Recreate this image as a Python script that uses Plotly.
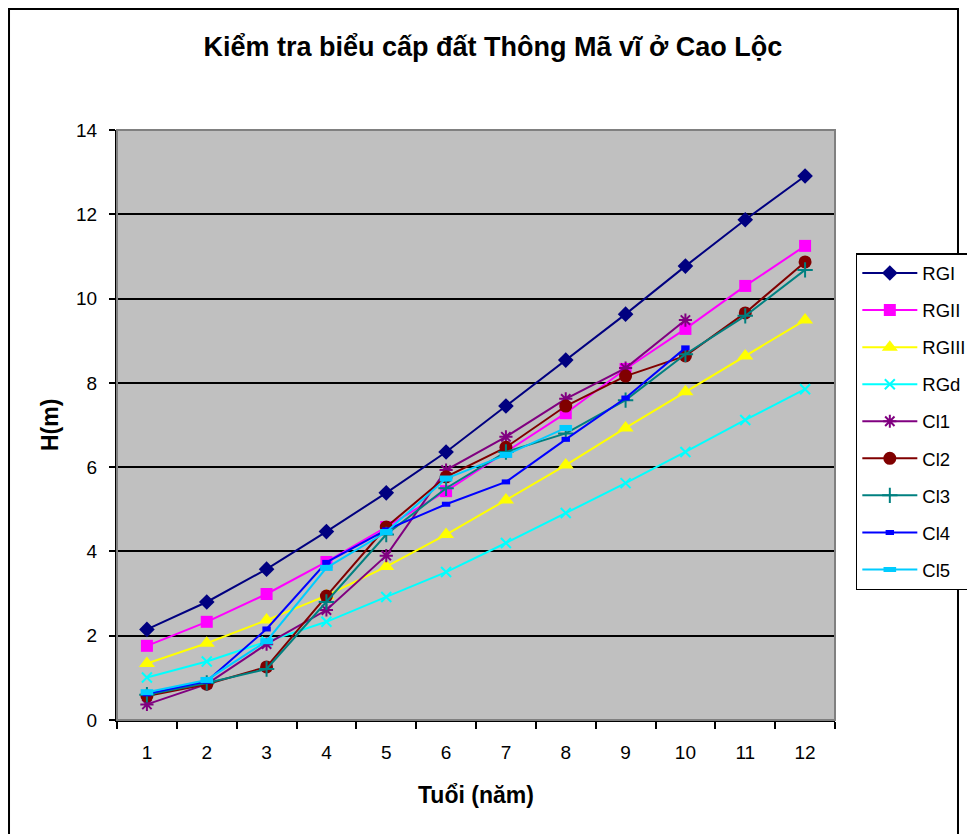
import plotly.graph_objects as go

# Tree age (years) on the category axis
ages = ["1", "2", "3", "4", "5", "6", "7", "8", "9", "10", "11", "12"]

# Site-class reference curves, height H (m)
rg_i = [2.15, 2.80, 3.58, 4.47, 5.39, 6.36, 7.45, 8.54, 9.63, 10.77, 11.87, 12.91]
rg_ii = [1.76, 2.33, 2.99, 3.75, 4.58, 5.43, 6.36, 7.28, 8.33, 9.28, 10.30, 11.25]
rg_iii = [1.34, 1.82, 2.37, 2.95, 3.64, 4.40, 5.22, 6.05, 6.93, 7.79, 8.64, 9.49]
rg_d = [1.01, 1.39, 1.86, 2.33, 2.92, 3.51, 4.20, 4.91, 5.62, 6.36, 7.12, 7.85]

# Sample plots, height H (m)
cl1 = [0.37, 0.85, 1.80, 2.61, 3.90, 5.93, 6.72, 7.62, 8.35, 9.49]
cl2 = [0.57, 0.85, 1.26, 2.94, 4.58, 5.77, 6.47, 7.45, 8.16, 8.64, 9.66, 10.87]
cl3 = [0.60, 0.88, 1.21, 2.80, 4.40, 5.50, 6.36, 6.80, 7.59, 8.68, 9.59, 10.68]
cl4 = [0.62, 0.92, 2.16, 3.74, 4.51, 5.12, 5.65, 6.66, 7.64, 8.83]
cl5 = [0.66, 0.95, 1.87, 3.61, 4.46, 5.73, 6.29, 6.93]

y_ticks = [0, 2, 4, 6, 8, 10, 12, 14]

FONT = "Arial, 'Liberation Sans', sans-serif"

series = [
    ("RGI", rg_i, "#000080", "diamond", 12, 0),
    ("RGII", rg_ii, "#FF00FF", "square", 12, 0),
    ("RGIII", rg_iii, "#FFFF00", "triangle-up", 14, 0),
    ("RGd", rg_d, "#00FFFF", "x-thin-open", 10, 2),
    ("Cl1", cl1, "#800080", "asterisk-open", 11, 2),
    ("Cl2", cl2, "#800000", "circle", 13, 0),
    ("Cl3", cl3, "#008080", "cross-thin-open", 11, 2),
    ("Cl4", cl4, "#0000FF", "line-ew-open", 6, 5),
    ("Cl5", cl5, "#00CCFF", "line-ew-open", 9, 6),
]

fig = go.Figure()
for name, vals, color, sym, size, lw in series:
    fig.add_trace(go.Scatter(
        x=ages[:len(vals)], y=vals, name=name, mode="lines+markers",
        legendgroup=name,
        line=dict(color=color, width=2),
        marker=dict(symbol=sym, size=size, color=color,
                    line=dict(color=color, width=lw)),
    ))

# Outer chart frame
fig.add_shape(type="rect", xref="paper", yref="paper",
              x0=-0.1504, x1=1.1713, y0=-0.30, y1=1.2051,
              line=dict(color="black", width=2), layer="below")
# Plot-area border (grey top/right edges)
fig.add_shape(type="rect", xref="paper", yref="paper",
              x0=0, x1=1, y0=0, y1=1,
              line=dict(color="#808080", width=2), layer="above")

fig.update_layout(
    width=967, height=834,
    margin=dict(l=117, r=132, t=130, b=114, autoexpand=False),
    paper_bgcolor="white", plot_bgcolor="#C0C0C0",
    font=dict(family=FONT, size=19, color="black"),
    title=dict(text="<b>Kiểm tra biểu cấp đất Thông Mã vĩ ở Cao Lộc</b>",
               font=dict(family=FONT, size=27, color="black"),
               x=0.5235, xref="paper", xanchor="center",
               y=1 - 47 / 834, yref="container", yanchor="middle"),
    showlegend=True,
    legend=dict(x=1.029, y=0.7915, xanchor="left", yanchor="top",
                bordercolor="black", borderwidth=1.5, bgcolor="white",
                font=dict(family=FONT, size=18.5), tracegroupgap=10,
                itemwidth=55),
    xaxis=dict(type="category", categoryorder="array", categoryarray=ages,
               range=[-0.5, 11.5], tickson="boundaries", ticks="outside",
               ticklen=7, tickwidth=1.5, tickcolor="black",
               showline=True, linecolor="black", linewidth=2,
               showgrid=False, zeroline=False, ticklabelstandoff=14,
               tickfont=dict(size=19)),
    yaxis=dict(range=[0, 14], tickvals=y_ticks, ticks="outside",
               ticklen=6, tickwidth=1.5, tickcolor="black",
               showline=True, linecolor="black", linewidth=2,
               showgrid=True, gridcolor="black", gridwidth=2,
               zeroline=False, ticklabelstandoff=8,
               tickfont=dict(size=19)),
    annotations=[
        dict(text="<b>Tuổi (năm)</b>", xref="paper", yref="paper",
             x=0.5, y=(720 - 795) / 590, xanchor="center", yanchor="middle",
             showarrow=False, font=dict(family=FONT, size=23)),
        dict(text="<b>H(m)</b>", xref="paper", yref="paper",
             x=(50 - 117) / 718, y=0.5, xanchor="center", yanchor="middle",
             textangle=-90, showarrow=False, font=dict(family=FONT, size=23)),
    ],
)

fig.write_html("out.html")
